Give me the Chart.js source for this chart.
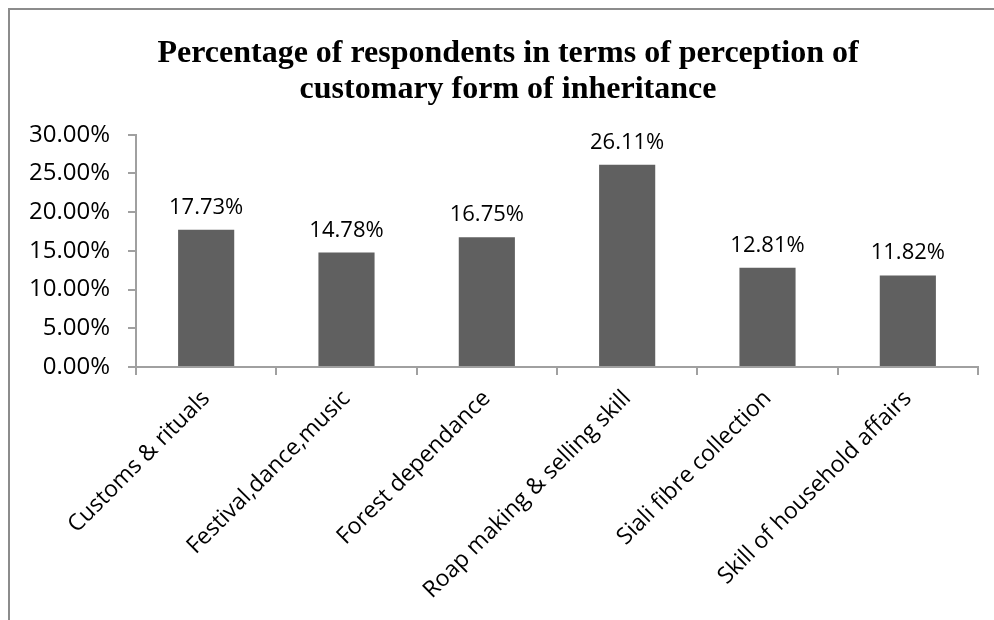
<!DOCTYPE html>
<html>
<head>
<meta charset="utf-8">
<script src="https://cdn.jsdelivr.net/npm/chart.js@4.4.0/dist/chart.umd.min.js"></script>
<style>
    body { margin: 0; background: #fff; }
    #wrap { position: relative; width: 994px; height: 620px; overflow: hidden; }
    #frame {
        position: absolute; left: 8px; top: 8px; right: -10px; bottom: -10px;
        border-left: 2px solid #8c8c8c; border-top: 2px solid #8c8c8c;
    }
    #chart { position: absolute; left: 0; top: 0; }
</style>
</head>
<body>
<div id="wrap">
    <div id="frame"></div>
    <canvas id="chart" width="994" height="620"></canvas>
</div>
<script>
const titleLines = ['Percentage of respondents in terms of perception of', 'customary form of inheritance'];
const categories = [
    'Customs & rituals',
    'Festival,dance,music',
    'Forest dependance',
    'Roap making & selling skill',
    'Siali fibre collection',
    'Skill of household affairs'
];
const percentValues = [17.73, 14.78, 16.75, 26.11, 12.81, 11.82];
const yTickValues = [0, 5, 10, 15, 20, 25, 30];

const barColor = '#606060';
const axisColor = '#a0a0a0';
const labelFont = 'Open Sans';

// draws the value above every bar
const valueLabels = {
    id: 'valueLabels',
    afterDatasetsDraw(chart) {
        const ctx = chart.ctx;
        const meta = chart.getDatasetMeta(0);
        ctx.save();
        ctx.font = '22px "' + labelFont + '"';
        ctx.fillStyle = '#000';
        ctx.textAlign = 'center';
        ctx.textBaseline = 'alphabetic';
        meta.data.forEach((bar, i) => {
            ctx.fillText(percentValues[i].toFixed(2) + '%', bar.x, bar.y - 16);
        });
        ctx.restore();
    }
};

// title sits a little right of the canvas centre in the original
const titleShift = {
    id: 'titleShift',
    afterLayout(chart) {
        if (chart.titleBlock) {
            chart.titleBlock.left += 9;
            chart.titleBlock.right += 9;
        }
    }
};

const ctx = document.getElementById('chart').getContext('2d');
new Chart(ctx, {
    type: 'bar',
    data: {
        labels: categories,
        datasets: [{
            data: percentValues,
            backgroundColor: barColor,
            borderWidth: 0,
            barPercentage: 0.4,
            categoryPercentage: 1.0
        }]
    },
    options: {
        responsive: false,
        animation: false,
        layout: { padding: { left: 20, right: 16, top: 36, bottom: 0 } },
        scales: {
            y: {
                min: 0,
                max: 30,
                afterFit: (scale) => { scale.width = 116; },
                afterBuildTicks: (scale) => { scale.ticks = yTickValues.map(v => ({ value: v })); },
                border: { display: true, color: axisColor, width: 2 },
                grid: { drawOnChartArea: false, drawTicks: true, tickLength: 8, color: axisColor, lineWidth: 2 },
                ticks: {
                    padding: 18,
                    color: '#000',
                    font: { family: labelFont, size: 24 },
                    callback: (v) => v.toFixed(2) + '%'
                }
            },
            x: {
                afterFit: (scale) => { scale.height = 253; },
                border: { display: true, color: axisColor, width: 2 },
                grid: { offset: true, drawOnChartArea: false, drawTicks: true, tickLength: 8, color: axisColor, lineWidth: 2 },
                ticks: {
                    minRotation: 45,
                    maxRotation: 45,
                    padding: 10,
                    color: '#000',
                    font: { family: labelFont, size: 23 }
                }
            }
        },
        plugins: {
            legend: { display: false },
            tooltip: { enabled: false },
            title: {
                display: true,
                text: titleLines,
                color: '#000',
                font: { family: 'Liberation Serif', size: 32, weight: 'bold', lineHeight: 1.12 },
                padding: { top: 0, bottom: 27 }
            }
        }
    },
    plugins: [valueLabels, titleShift]
});
</script>
</body>
</html>
